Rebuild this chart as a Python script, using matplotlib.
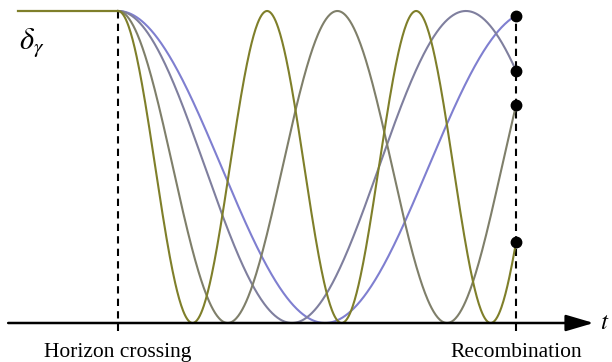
import numpy as np
import matplotlib
matplotlib.use("Agg")
import matplotlib.pyplot as plt

# time in units where horizon crossing = 0 and recombination = 1
t_horizon = 0.0
t_rec = 1.0
# period of each mode (same time units), slowest last
periods = [0.3745, 0.551, 0.874, 1.04]
colors = ["#7f7f2a", "#7f7f6a", "#7f7f9e", "#7f7fd0"]
labels = ["Horizon crossing", "Recombination"]

plt.rcParams["mathtext.fontset"] = "stix"
plt.rcParams["font.family"] = ["Liberation Serif", "DejaVu Serif"]

fig = plt.figure(figsize=(6.12, 3.62), dpi=100)
ax = fig.add_axes([0, 0, 1, 1])
ax.set_xlim(-0.2965, 1.241)
ax.set_ylim(-1.25, 1.0705)
ax.axis("off")

# flat super-horizon part
ax.plot([-0.251, t_horizon], [1, 1], color=colors[0], lw=1.6, zorder=3)

t = np.linspace(t_horizon, t_rec, 600)
for P, c in zip(periods[::-1], colors[::-1]):
    ax.plot(t, np.cos(2 * np.pi * (t - t_horizon) / P), color=c, lw=1.5, zorder=2)

# vertical dashed markers
for tx in (t_horizon, t_rec):
    ax.plot([tx, tx], [-1.05, 1.0], color="black", lw=1.5, ls=(0, (3.5, 2.5)), zorder=1)

# values at recombination
vals = [np.cos(2 * np.pi * (t_rec - t_horizon) / P) for P in periods]
ax.plot([t_rec] * len(vals), vals, "o", color="black", ms=7.5, zorder=4)

# time axis with arrow
ax.annotate("", xy=(1.195, -1), xytext=(-0.276, -1),
            arrowprops=dict(arrowstyle="-|>,head_length=1.7,head_width=0.5",
                            color="black", lw=1.8, shrinkA=0, shrinkB=0))

ax.text(1.211, -1, "$t$", fontsize=18, ha="left", va="center")
ax.text(-0.248, 0.8, r"$\delta_\gamma$", fontsize=22, ha="left", va="center")
ax.text(t_horizon, -1.19, labels[0], fontsize=15.5, ha="center", va="center")
ax.text(t_rec, -1.19, labels[1], fontsize=15.5, ha="center", va="center")

fig.savefig("out.png", dpi=100)
